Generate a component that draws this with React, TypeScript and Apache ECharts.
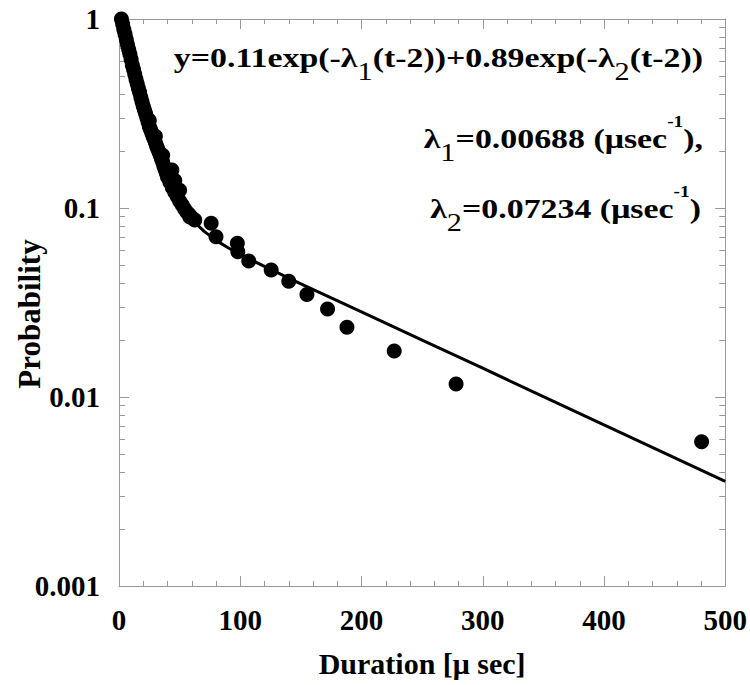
import React, { useEffect, useRef } from "react";
import * as echarts from "echarts";

// Dense measured points (duration in µs, probability)
const denseT = [2, 3, 4, 5, 6, 7, 8, 9, 10, 11, 12, 13, 14, 15, 16, 17, 18, 19, 20, 21, 22, 23, 24, 25, 26, 27, 28, 29, 30, 31, 32, 33, 34, 35, 36, 37, 38, 39, 40, 42, 44, 46, 48, 50, 52, 54, 56, 58, 60];
const denseP = [1.0, 0.94, 0.88, 0.83, 0.78, 0.73, 0.69, 0.65, 0.61, 0.57, 0.54, 0.51, 0.48, 0.455, 0.43, 0.41, 0.385, 0.365, 0.345, 0.33, 0.315, 0.3, 0.285, 0.27, 0.26, 0.25, 0.24, 0.232, 0.222, 0.213, 0.205, 0.198, 0.19, 0.182, 0.175, 0.167, 0.16, 0.153, 0.146, 0.137, 0.128, 0.121, 0.115, 0.109, 0.104, 0.099, 0.095, 0.092, 0.089];
// Points lying on the right edge of the dense band
const edgeT = [25, 30, 36, 40.3, 43.6, 46, 50, 58.4, 62.5];
const edgeP = [0.29, 0.24, 0.19, 0.149, 0.159, 0.14, 0.124, 0.0895, 0.0864];
// Sparse tail points
const tailT = [76, 80, 97.6, 98, 107, 125.5, 140, 155, 172, 188, 227, 278, 480.5];
const tailP = [0.083, 0.0705, 0.065, 0.0587, 0.0525, 0.047, 0.041, 0.0349, 0.0292, 0.0234, 0.0175, 0.0117, 0.0058];
// Fitted curve
const fitT = [2, 5, 7.5, 10, 12.5, 15, 20, 25, 30, 35, 40, 45, 50, 55, 60, 70, 80, 90, 100, 125, 150, 200, 250, 300, 350, 400, 450, 500];
const fitP = [1.0, 0.824, 0.704, 0.603, 0.519, 0.448, 0.339, 0.2625, 0.208, 0.1695, 0.142, 0.1215, 0.107, 0.0956, 0.087, 0.0754, 0.0674, 0.0616, 0.0568, 0.0473, 0.0397, 0.0282, 0.02, 0.0142, 0.01004, 0.00712, 0.00505, 0.00358];

const yMajor = [0.001, 0.01, 0.1, 1];
const yMinor = [
  0.002, 0.003, 0.004, 0.005, 0.006, 0.007, 0.008, 0.009,
  0.02, 0.03, 0.04, 0.05, 0.06, 0.07, 0.08, 0.09,
  0.2, 0.3, 0.4, 0.5, 0.6, 0.7, 0.8, 0.9,
];

const xTitle = "Duration [μ sec]";
const yTitle = "Probability";
const eqLine1 = "{n|y=0.11exp(-λ}{sub|1}{n|(t-2))+0.89exp(-λ}{sub|2}{n|(t-2))}";
const eqLine2 = "{n|λ}{sub|1}{n|=0.00688 (μsec}{sup|-1}{n|),}";
const eqLine3 = "{n|λ}{sub|2}{n|=0.07234 (μsec}{sup|-1}{n|)}";

const FONT = "'Liberation Serif', 'Times New Roman', serif";
const AXIS_COLOR = "#999999";

export default function App() {
  const ref = useRef<HTMLDivElement>(null);

  useEffect(() => {
    document.body.style.margin = "0";
    if (!ref.current) return;
    const chart = echarts.init(ref.current, null, { renderer: "svg" });

    const points = denseT
      .map((t, i) => [t, denseP[i]])
      .concat(edgeT.map((t, i) => [t, edgeP[i]]))
      .concat(tailT.map((t, i) => [t, tailP[i]]));
    const fit = fitT.map((t, i) => [t, fitP[i]]);

    const labelStyle = { fontFamily: FONT, fontWeight: "bold" as const, fontSize: 29, color: "#000" };

    const xBase = {
      type: "value" as const,
      min: 0,
      max: 500,
      interval: 100,
      splitLine: { show: false },
      axisLine: { show: true, lineStyle: { color: AXIS_COLOR, width: 1 } },
      axisTick: { show: true, inside: true, length: 10, lineStyle: { color: AXIS_COLOR } },
      minorTick: { show: true, splitNumber: 5, length: 5, lineStyle: { color: AXIS_COLOR } },
    };

    const yBase = {
      type: "log" as const,
      logBase: 10,
      min: 0.001,
      max: 1,
      splitLine: { show: false },
      minorSplitLine: { show: false },
    };

    const rich = {
      n: { fontFamily: FONT, fontWeight: "bold" as const, fontSize: 28, color: "#000", lineHeight: 51, verticalAlign: "middle" as const },
      sub: { fontFamily: FONT, fontWeight: "normal" as const, fontSize: 25, color: "#000", lineHeight: 20, verticalAlign: "bottom" as const },
      sup: { fontFamily: FONT, fontWeight: "bold" as const, fontSize: 16, color: "#000", lineHeight: 23, verticalAlign: "top" as const },
    };

    const eqText = (text: string, x: number, y: number) => ({
      type: "text",
      x,
      y,
      scaleX: 1.21,
      style: { text, rich, align: "right", verticalAlign: "middle" },
    });

    chart.setOption({
      animation: false,
      backgroundColor: "#fff",
      grid: { left: 119, right: 23, top: 19, bottom: 99, containLabel: false },
      xAxis: [
        {
          ...xBase,
          position: "bottom",
          axisLabel: { ...labelStyle, margin: 19 },
          name: xTitle,
          nameLocation: "middle",
          nameGap: 62,
          nameTextStyle: { fontFamily: FONT, fontWeight: "bold", fontSize: 30, color: "#000" },
        },
        {
          ...xBase,
          position: "top",
          axisLabel: { show: false },
        },
      ],
      yAxis: [
        {
          ...yBase,
          position: "left",
          axisLine: { show: true, lineStyle: { color: AXIS_COLOR, width: 1 } },
          axisTick: { show: true, inside: true, length: 10, customValues: yMajor, lineStyle: { color: AXIS_COLOR } },
          axisLabel: {
            ...labelStyle,
            margin: 19,
            customValues: yMajor,
            formatter: (v: number) => String(Number(v.toPrecision(1))),
          },
        },
        {
          ...yBase,
          position: "left",
          axisLine: { show: false },
          axisTick: { show: true, inside: true, length: 6, customValues: yMinor, lineStyle: { color: AXIS_COLOR } },
          axisLabel: { show: false },
        },
        {
          ...yBase,
          position: "right",
          axisLine: { show: true, lineStyle: { color: AXIS_COLOR, width: 1 } },
          axisTick: { show: true, inside: true, length: 10, customValues: yMajor, lineStyle: { color: AXIS_COLOR } },
          axisLabel: { show: false },
        },
        {
          ...yBase,
          position: "right",
          axisLine: { show: false },
          axisTick: { show: true, inside: true, length: 6, customValues: yMinor, lineStyle: { color: AXIS_COLOR } },
          axisLabel: { show: false },
        },
      ],
      series: [
        {
          type: "line",
          data: fit,
          showSymbol: false,
          symbol: "none",
          smooth: false,
          lineStyle: { color: "#000", width: 3 },
          z: 2,
        },
        {
          type: "scatter",
          data: points,
          symbol: "circle",
          symbolSize: 15,
          itemStyle: { color: "#000", opacity: 1 },
          z: 3,
        },
      ],
      graphic: [
        {
          type: "text",
          x: 29,
          y: 314,
          rotation: Math.PI / 2,
          style: {
            text: yTitle,
            fontFamily: FONT,
            fontWeight: "bold",
            fontSize: 31,
            fill: "#000",
            align: "center",
            verticalAlign: "middle",
          },
        },
        eqText(eqLine1, 703, 58),
        eqText(eqLine2, 703, 139),
        eqText(eqLine3, 701, 209),
      ],
    });

    return () => chart.dispose();
  }, []);

  return <div ref={ref} style={{ width: 750, height: 685 }} />;
}
